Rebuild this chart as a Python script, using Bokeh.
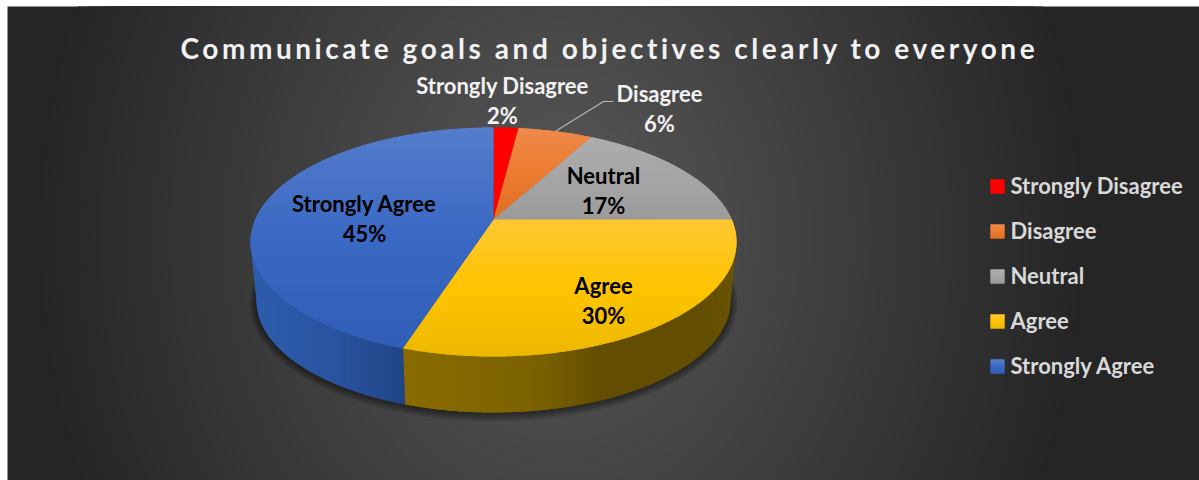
import numpy as np
from bokeh.core.properties import value
from bokeh.document import Document
from bokeh.embed import file_html
from bokeh.models import CustomJS
from bokeh.plotting import figure
from bokeh.resources import INLINE

# Survey results
title_text = "Communicate goals and objectives clearly to everyone"
categories = ["Strongly Disagree", "Disagree", "Neutral", "Agree", "Strongly Agree"]
percents = [2, 6, 17, 30, 45]

# Slice shading, vertical: top, middle, bottom of each slice
slice_top = ["#ff0000", "#ef8d55", "#b0b0b0", "#fdc843", "#5f84cf"]
slice_mid = ["#ff0000", "#ec7c30", "#a5a5a5", "#ffc400", "#3a69c3"]
slice_low = ["#ff0000", "#dd6a1f", "#989898", "#e6b400", "#2d5cb2"]
# Wall shading, horizontal: (pixel x, colour) stops for the slices with a visible wall
wall_stops = {
    3: [(408, "#917300"), (540, "#7f6500"), (600, "#5f4b00"), (700, "#5e4a00"), (736, "#6b5500")],
    4: [(250, "#2f60b2"), (330, "#2a55a0"), (408, "#1f3f7c")],
}
legend_y = [186, 231, 276, 321, 366]
label_x = [502, 659, 603, 603, 364]
label_y = [85, 93, 175, 285, 203]
label_colors = ["#f2f2f2", "#f2f2f2", "#000000", "#000000", "#000000"]

# Disc projection: perspective view of a circle seen from above the front edge
CX, CY, A, B, K = 493.0, 219.0, 238.3, 110.1, 0.1965
DROP_CY, DROP_SCALE = 278.4, 0.975
PANEL_LEFT, PANEL_TOP, PANEL_RIGHT, PANEL_BOTTOM = 7, 6, 1199, 480
FONT = "Lato"
LABEL_SIZE = "22px"


def rim(theta, cy=CY, scale=1.0):
    w = 1 + K * np.cos(theta)
    return CX + scale * A * np.sin(theta) / w, cy - scale * B * np.cos(theta) / w


def rgb(h):
    return np.array([int(h[i:i + 2], 16) for i in (1, 3, 5)], float)


def to_hex(c):
    return "#%02x%02x%02x" % tuple(int(round(v)) for v in c)


def blend(stops, t):
    pos = [s[0] for s in stops]
    cols = np.array([rgb(s[1]) for s in stops])
    return to_hex([np.interp(t, pos, cols[:, i]) for i in range(3)])


def clip_band(pts, lo, hi, axis):
    """Clip a polygon to lo..hi along one axis (0 for x, 1 for y)."""
    def clip(poly, inside, level):
        out = []
        for i in range(len(poly)):
            a, b = poly[i - 1], poly[i]
            if inside(b[axis]) != inside(a[axis]):
                t = (level - a[axis]) / (b[axis] - a[axis])
                out.append((a[0] + t * (b[0] - a[0]), a[1] + t * (b[1] - a[1])))
            if inside(b[axis]):
                out.append(b)
        return out

    pts = clip(pts, lambda v: v >= lo, lo)
    return clip(pts, lambda v: v <= hi, hi) if pts else pts


p = figure(width=1199, height=480, x_range=(0, 1199), y_range=(480, 0),
           output_backend="svg", toolbar_location=None, min_border=0)
p.axis.visible = False
p.grid.visible = False
p.outline_line_color = None
p.background_fill_color = "#ffffff"
p.border_fill_color = "#ffffff"

# Radial backdrop: nested rings, one per grey level, trimmed to the panel
p.quad(left=[PANEL_LEFT], right=[PANEL_RIGHT], top=[PANEL_TOP], bottom=[PANEL_BOTTOM],
       fill_color="#252525", line_color=None)
levels = np.arange(38, 91)
ring_t = np.linspace(0, 2 * np.pi, 181)
ring_x, ring_y, ring_c = [], [], []
for v in levels:
    g = (90 - v) / 50 + 0.001
    ring_x.append(np.clip(560 + 500 * g * np.cos(ring_t), PANEL_LEFT, PANEL_RIGHT).tolist())
    ring_y.append(np.clip(235 + 600 * g * np.sin(ring_t), PANEL_TOP, PANEL_BOTTOM).tolist())
    ring_c.append(to_hex([v, v, v]))
p.patches(ring_x, ring_y, fill_color=ring_c, line_color=None)

# Soft shadow round the lower rim
all_t = np.linspace(0, 2 * np.pi, 240)
for grow_px in (7, 5.5, 4, 2.5, 1):
    sx, sy = rim(all_t, DROP_CY + 1, DROP_SCALE)
    sx = CX + (sx - CX) * (1 + grow_px / 240)
    sy = DROP_CY + 1 + (sy - DROP_CY - 1) * (1 + grow_px / 120)
    p.patch(sx, sy, fill_color="#000000", fill_alpha=0.1, line_color=None)

# Slice boundaries, clockwise from twelve o'clock
edges = np.cumsum([0] + percents) / 100 * 2 * np.pi

# The wall is visible between the two points where the rim turns back
turn_right = np.arccos(-K)
turn_left = 2 * np.pi - turn_right

# Outer wall of the slices facing the viewer, in one-pixel columns
wall_x, wall_y, wall_c = [], [], []
for idx, stops in wall_stops.items():
    ts = np.linspace(max(edges[idx], turn_right), min(edges[idx + 1], turn_left), 120)
    tx, ty = rim(ts)
    bx, by = rim(ts[::-1], DROP_CY, DROP_SCALE)
    poly = list(zip(np.r_[tx, bx], np.r_[ty, by]))
    xs = [q[0] for q in poly]
    base = blend(stops, (min(xs) + max(xs)) / 2)
    p.patch(xs, [q[1] for q in poly], fill_color=base, line_color=None)
    for col in range(int(np.floor(min(xs))), int(np.ceil(max(xs)))):
        pts = clip_band(poly, col, col + 1, 0)
        if len(pts) >= 3:
            wall_x.append([q[0] for q in pts])
            wall_y.append([q[1] for q in pts])
            wall_c.append(blend(stops, col + 0.5))
p.patches(wall_x, wall_y, fill_color=wall_c, line_color=None)

# Disc top: a flat slice with one-pixel rows over it for the vertical shading
top_x, top_y, top_c = [], [], []
for i in range(len(percents)):
    ts = np.linspace(edges[i], edges[i + 1], max(8, percents[i] * 8))
    rx, ry = rim(ts)
    px = np.r_[CX, rx]
    py = np.r_[CY, ry]
    p.patch(px, py, fill_color=slice_mid[i], line_color=None)
    poly = list(zip(px, py))
    lo, hi = py.min(), py.max()
    stops = [(0, slice_top[i]), (0.5, slice_mid[i]), (1, slice_low[i])]
    for row in range(int(np.floor(lo)), int(np.ceil(hi))):
        pts = clip_band(poly, row, row + 1, 1)
        if len(pts) >= 3:
            top_x.append([q[0] for q in pts])
            top_y.append([q[1] for q in pts])
            top_c.append(blend(stops, (row + 0.5 - lo) / (hi - lo)))
p.patches(top_x, top_y, fill_color=top_c, line_color=None)

# Leader from the Disagree slice to its label
lead_angle = (edges[1] + edges[2]) / 2
lx, ly = rim(lead_angle)
p.line([lx, 603, 613], [ly, 101, 101], line_color="#b5b5b5", line_width=1.2)

# Slice labels: name above percentage
for i, cat in enumerate(categories):
    for row, txt in enumerate([cat, f"{percents[i]}%"]):
        p.text([label_x[i]], [label_y[i] + 30 * row], text=[txt], text_color=label_colors[i],
               text_font=value(FONT), text_font_style="bold", text_font_size=LABEL_SIZE,
               text_align="center", text_baseline="middle")

# Legend
for i, cat in enumerate(categories):
    swatch = [(0, slice_top[i]), (0.5, slice_mid[i]), (1, slice_low[i])]
    cols = [blend(swatch, (k + 0.5) / 14) for k in range(14)]
    tops = [legend_y[i] - 7 + k for k in range(14)]
    p.quad(left=[990], right=[1004], top=[tops[0]], bottom=[tops[-1] + 1],
           fill_color=slice_mid[i], line_color=None)
    p.quad(left=[990] * 14, right=[1004] * 14, top=tops, bottom=[t + 1 for t in tops],
           fill_color=cols, line_color=None)
    p.text([1010], [legend_y[i] - 1], text=[cat], text_color="#d9d9d9",
           text_font=value(FONT), text_font_style="bold", text_font_size=LABEL_SIZE,
           text_align="left", text_baseline="middle")

# Chart heading
p.text([180], [47], text=[title_text], text_color="#f2f2f2",
       text_font=value(FONT), text_font_style="bold", text_font_size="28px",
       text_align="left", text_baseline="middle")

doc = Document()
doc.add_root(p)

# Tracking on the heading is applied once the SVG exists
spacing_js = CustomJS(args=dict(heading=title_text), code="""
function apply(root) {
  root.querySelectorAll('*').forEach((el) => {
    if (el.shadowRoot) apply(el.shadowRoot);
    if (el.tagName.toLowerCase() === 'text' && el.textContent === heading) {
      el.style.letterSpacing = '3.55px';
    }
  });
}
apply(document);
setTimeout(() => apply(document), 200);
""")
doc.js_on_event("document_ready", spacing_js)

open("out.html", "w").write(file_html(p, INLINE))
